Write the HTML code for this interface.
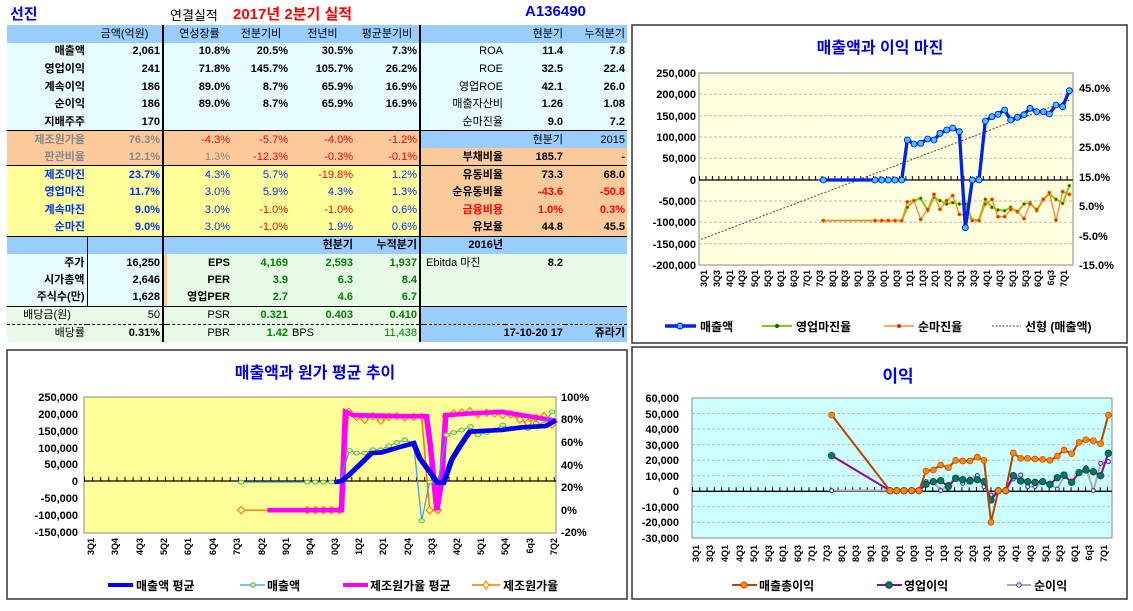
<!DOCTYPE html>
<html><head><meta charset="utf-8">
<style>
body{margin:0;width:1133px;height:611px;background:#fff;position:relative;overflow:hidden;font-family:"Liberation Sans","Noto Sans CJK KR",sans-serif;}
.t{position:absolute;white-space:nowrap;font-weight:bold}
table{position:absolute;left:7px;top:25px;width:620px;border-collapse:collapse;table-layout:fixed;font-size:11px;font-weight:bold}
td{height:17.6px;padding:0 2px;text-align:right;white-space:nowrap;overflow:hidden;line-height:16px;box-sizing:border-box}
.b{background:#99ccff}.c{background:#e6fbfb}.o{background:#fcc99b}.y{background:#ffff99}.g{background:#e6fae6}
.r{color:#ff0000}.bl{color:#0033ff}.gr{color:#008000}.gy{color:#888}.n{font-weight:normal}
.lb{border-left:2px solid #000}.rb{border-right:1px solid #000}
svg{position:absolute;left:0;top:0}
svg text{font-family:"Liberation Sans","Noto Sans CJK KR",sans-serif;font-weight:bold}
</style></head><body>
<div class="t" style="left:10px;top:3px;font-size:15px;color:#0000ee">선진</div>
<div class="t n" style="left:170px;top:5px;font-size:13px;font-weight:normal">연결실적</div>
<div class="t" style="left:233px;top:3px;font-size:15px;color:#ff0000">2017년 2분기 실적</div>
<div class="t" style="left:525px;top:3px;font-size:15px;color:#0000ee">A136490</div>
<table>
<colgroup><col style="width:80px"><col style="width:76px"><col style="width:4px"><col style="width:65px"><col style="width:58px"><col style="width:65px"><col style="width:65px"><col style="width:4px"><col style="width:81px"><col style="width:60px"><col style="width:62px"></colgroup>
<tr class="b"><td></td><td class="n" style="text-align:center">금액(억원)</td><td class="lb"></td><td class="n" style="text-align:center">연성장률</td><td class="n" style="text-align:center">전분기비</td><td class="n" style="text-align:center">전년비</td><td class="n" style="text-align:center">평균분기비</td><td class="lb"></td><td></td><td class="n">현분기</td><td class="n">누적분기</td></tr>
<tr class="c"><td>매출액</td><td>2,061</td><td class="lb"></td><td>10.8%</td><td>20.5%</td><td>30.5%</td><td>7.3%</td><td class="lb"></td><td class="n">ROA</td><td>11.4</td><td>7.8</td></tr>
<tr class="c"><td>영업이익</td><td>241</td><td class="lb"></td><td>71.8%</td><td>145.7%</td><td>105.7%</td><td>26.2%</td><td class="lb"></td><td class="n">ROE</td><td>32.5</td><td>22.4</td></tr>
<tr class="c"><td>계속이익</td><td>186</td><td class="lb"></td><td>89.0%</td><td>8.7%</td><td>65.9%</td><td>16.9%</td><td class="lb"></td><td class="n">영업ROE</td><td>42.1</td><td>26.0</td></tr>
<tr class="c"><td>순이익</td><td>186</td><td class="lb"></td><td>89.0%</td><td>8.7%</td><td>65.9%</td><td>16.9%</td><td class="lb"></td><td class="n">매출자산비</td><td>1.26</td><td>1.08</td></tr>
<tr class="c"><td>지배주주</td><td>170</td><td class="lb"></td><td></td><td></td><td></td><td></td><td class="lb"></td><td class="n">순마진율</td><td>9.0</td><td>7.2</td></tr>
<tr class="o" style="border-top:1px solid #000"><td class="gy">제조원가율</td><td class="gy">76.3%</td><td class="lb"></td><td class="r n">-4.3%</td><td class="r n">-5.7%</td><td class="r n">-4.0%</td><td class="r n">-1.2%</td><td class="lb b"></td><td class="b"></td><td class="b n">현분기</td><td class="b n">2015</td></tr>
<tr class="o"><td class="gy">판관비율</td><td class="gy">12.1%</td><td class="lb"></td><td class="gy n">1.3%</td><td class="r n">-12.3%</td><td class="r n">-0.3%</td><td class="r n">-0.1%</td><td class="lb"></td><td>부채비율</td><td>185.7</td><td>-</td></tr>
<tr class="y" style="border-top:1px solid #000"><td class="bl">제조마진</td><td class="bl">23.7%</td><td class="lb"></td><td class="bl n">4.3%</td><td class="bl n">5.7%</td><td class="r n">-19.8%</td><td class="bl n">1.2%</td><td class="lb o"></td><td class="o">유동비율</td><td class="o">73.3</td><td class="o">68.0</td></tr>
<tr class="y"><td class="bl">영업마진</td><td class="bl">11.7%</td><td class="lb"></td><td class="bl n">3.0%</td><td class="bl n">5.9%</td><td class="bl n">4.3%</td><td class="bl n">1.3%</td><td class="lb o"></td><td class="o">순유동비율</td><td class="o r">-43.6</td><td class="o r">-50.8</td></tr>
<tr class="y"><td class="bl">계속마진</td><td class="bl">9.0%</td><td class="lb"></td><td class="bl n">3.0%</td><td class="r n">-1.0%</td><td class="r n">-1.0%</td><td class="bl n">0.6%</td><td class="lb o"></td><td class="o r">금융비용</td><td class="o r">1.0%</td><td class="o r">0.3%</td></tr>
<tr class="y"><td class="bl">순마진</td><td class="bl">9.0%</td><td class="lb"></td><td class="bl n">3.0%</td><td class="r n">-1.0%</td><td class="bl n">1.9%</td><td class="bl n">0.6%</td><td class="lb o"></td><td class="o">유보율</td><td class="o">44.8</td><td class="o">45.5</td></tr>
<tr class="b" style="border-top:1px solid #000"><td class="rb"></td><td></td><td class="lb"></td><td></td><td></td><td>현분기</td><td>누적분기</td><td class="lb"></td><td>2016년</td><td></td><td></td></tr>
<tr class="g"><td class="c rb">주가</td><td class="c">16,250</td><td class="lb o"></td><td>EPS</td><td class="gr">4,169</td><td class="gr">2,593</td><td class="gr">1,937</td><td class="lb"></td><td class="n" style="text-align:left">Ebitda 마진</td><td>8.2</td><td></td></tr>
<tr class="g"><td class="c rb">시가총액</td><td class="c">2,646</td><td class="lb o"></td><td>PER</td><td class="gr">3.9</td><td class="gr">6.3</td><td class="gr">8.4</td><td class="lb"></td><td></td><td></td><td></td></tr>
<tr class="g"><td class="c rb">주식수(만)</td><td class="c">1,628</td><td class="lb o"></td><td>영업PER</td><td class="gr">2.7</td><td class="gr">4.6</td><td class="gr">6.7</td><td class="lb"></td><td></td><td></td><td></td></tr>
<tr class="g" style="border-top:1px solid #000"><td class="n" style="text-align:center">배당금(원)</td><td class="n">50</td><td class="lb"></td><td class="n">PSR</td><td class="gr">0.321</td><td class="gr">0.403</td><td class="gr">0.410</td><td class="lb b"></td><td class="b"></td><td class="b"></td><td class="b"></td></tr>
<tr class="g" style="border-top:1px dashed #000"><td class="n">배당률</td><td>0.31%</td><td class="lb"></td><td class="n">PBR</td><td class="gr">1.42</td><td class="n" style="text-align:left">BPS</td><td class="gr n">11,438</td><td class="lb b"></td><td class="b" colspan="2">17-10-20 17</td><td class="b">쥬라기</td></tr>
</table>

<svg width="1133" height="611" viewBox="0 0 1133 611">
<defs>
<marker id="mB" markerUnits="userSpaceOnUse" viewBox="-11 -11 22 22" markerWidth="22" markerHeight="22"><circle r="9" fill="#33ccff" stroke="#0000ff" stroke-width="2.5"/></marker>
<marker id="mG" markerUnits="userSpaceOnUse" viewBox="-10 -10 20 20" markerWidth="20" markerHeight="20"><circle r="5" fill="#006600" stroke="#cccc00" stroke-width="2"/></marker>
<marker id="mO" markerUnits="userSpaceOnUse" viewBox="-10 -10 20 20" markerWidth="20" markerHeight="20"><circle r="5" fill="#cc3300" stroke="#ff8800" stroke-width="2"/></marker>
<marker id="mC" markerUnits="userSpaceOnUse" viewBox="-12 -12 24 24" markerWidth="24" markerHeight="24"><ellipse rx="7" ry="6" fill="#ffff00" stroke="#33aacc" stroke-width="2.5"/></marker>
<marker id="mD" markerUnits="userSpaceOnUse" viewBox="-14 -14 28 28" markerWidth="28" markerHeight="28"><path d="M0,-11 L9,0 0,11 -9,0Z" fill="#ffff99" stroke="#ff7700" stroke-width="3"/></marker>
<marker id="m1" markerUnits="userSpaceOnUse" viewBox="-12 -12 24 24" markerWidth="24" markerHeight="24"><circle r="9" fill="#ff8800" stroke="#cc4400" stroke-width="2"/></marker>
<marker id="m2" markerUnits="userSpaceOnUse" viewBox="-12 -12 24 24" markerWidth="24" markerHeight="24"><circle r="10" fill="#007766" stroke="#004433" stroke-width="2"/></marker>
<marker id="m3" markerUnits="userSpaceOnUse" viewBox="-12 -12 24 24" markerWidth="24" markerHeight="24"><circle r="6" fill="#ddddff" stroke="#3333aa" stroke-width="3"/></marker>
</defs>

<!-- TOP RIGHT -->
<rect x="632" y="25" width="495" height="318" fill="#fff" stroke="#333" stroke-width="1.5"/>
<text x="880" y="53" font-size="16" fill="#0000ee" text-anchor="middle">매출액과 이익 마진</text>
<rect x="699" y="73" width="374" height="192" fill="#ffffe0" stroke="#888"/>
<g stroke="#bbb" stroke-dasharray="3 2">
<line x1="699" x2="1073" y1="94.3" y2="94.3"/><line x1="699" x2="1073" y1="115.7" y2="115.7"/><line x1="699" x2="1073" y1="137" y2="137"/><line x1="699" x2="1073" y1="158.3" y2="158.3"/><line x1="699" x2="1073" y1="201" y2="201"/><line x1="699" x2="1073" y1="222.3" y2="222.3"/><line x1="699" x2="1073" y1="243.7" y2="243.7"/></g>
<line x1="699" x2="1073" y1="180" y2="180" stroke="#000" stroke-width="1.3"/>
<line x1="699" x2="1073" y1="178" y2="178" stroke="#000" stroke-width="4" stroke-dasharray="1 5.45"/>
<g font-size="11" text-anchor="end"><text x="696" y="77">250,000</text><text x="696" y="98">200,000</text><text x="696" y="120">150,000</text><text x="696" y="141">100,000</text><text x="696" y="162">50,000</text><text x="696" y="184">0</text><text x="696" y="205">-50,000</text><text x="696" y="226">-100,000</text><text x="696" y="248">-150,000</text><text x="696" y="269">-200,000</text></g>
<g font-size="11"><text x="1079" y="92">45.0%</text><text x="1079" y="121">35.0%</text><text x="1079" y="151">25.0%</text><text x="1079" y="181">15.0%</text><text x="1079" y="210">5.0%</text><text x="1079" y="240">-5.0%</text><text x="1079" y="269">-15.0%</text></g>
<g font-size="9" text-anchor="end">
<text transform="translate(707,270) rotate(-90)">3Q1</text><text transform="translate(720,270) rotate(-90)">3Q3</text><text transform="translate(733,270) rotate(-90)">4Q1</text><text transform="translate(745,270) rotate(-90)">4Q3</text><text transform="translate(758,270) rotate(-90)">5Q1</text><text transform="translate(771,270) rotate(-90)">5Q3</text><text transform="translate(784,270) rotate(-90)">6Q1</text><text transform="translate(797,270) rotate(-90)">6Q3</text><text transform="translate(810,270) rotate(-90)">7Q1</text><text transform="translate(823,270) rotate(-90)">7Q3</text><text transform="translate(836,270) rotate(-90)">8Q1</text><text transform="translate(848,270) rotate(-90)">8Q3</text><text transform="translate(861,270) rotate(-90)">9Q1</text><text transform="translate(874,270) rotate(-90)">9Q3</text><text transform="translate(887,270) rotate(-90)">0Q1</text><text transform="translate(900,270) rotate(-90)">0Q3</text><text transform="translate(913,270) rotate(-90)">1Q1</text><text transform="translate(926,270) rotate(-90)">1Q3</text><text transform="translate(938,270) rotate(-90)">2Q1</text><text transform="translate(951,270) rotate(-90)">2Q3</text><text transform="translate(964,270) rotate(-90)">3Q1</text><text transform="translate(977,270) rotate(-90)">3Q3</text><text transform="translate(990,270) rotate(-90)">4Q1</text><text transform="translate(1003,270) rotate(-90)">4Q3</text><text transform="translate(1016,270) rotate(-90)">5Q1</text><text transform="translate(1029,270) rotate(-90)">5Q3</text><text transform="translate(1041,270) rotate(-90)">6Q1</text><text transform="translate(1054,270) rotate(-90)">6q3</text><text transform="translate(1067,270) rotate(-90)">7Q1</text></g>
<g transform="translate(630,0) scale(0.33333)" fill="none">
<line x1="213" y1="718" x2="1318" y2="300" stroke="#444" stroke-width="3" stroke-dasharray="6 5"/>
<polyline stroke="#88cc00" stroke-width="6" marker-start="url(#mG)" marker-mid="url(#mG)" marker-end="url(#mG)" points="580,662 735,662 755,662 775,662 795,662 815,662 832,622 852,602 872,595 893,632 912,592 930,602 950,612 968,608 988,612 1006,612 1027,660 1047,660 1066,598 1086,622 1104,630 1124,632 1142,622 1162,636 1182,612 1200,608 1220,632 1240,598 1258,582 1278,598 1298,610 1318,557"/>
<polyline stroke="#ff8833" stroke-width="4" marker-start="url(#mO)" marker-mid="url(#mO)" marker-end="url(#mO)" points="580,662 735,662 755,662 775,662 795,662 815,662 832,606 852,602 872,658 893,628 912,583 930,628 950,602 968,587 988,643 1006,645 1027,662 1047,662 1066,612 1086,598 1104,650 1124,650 1142,628 1162,634 1182,656 1200,612 1220,628 1240,598 1258,578 1278,660 1298,575 1318,583"/>
<polyline stroke="#0022ee" stroke-width="10" marker-start="url(#mB)" marker-mid="url(#mB)" marker-end="url(#mB)" points="580,540 735,540 755,540 775,540 795,540 815,540 832,420 852,432 872,430 893,417 912,420 930,400 950,390 968,384 988,395 1006,683 1027,540 1047,540 1066,363 1086,350 1104,343 1124,330 1142,360 1162,352 1182,344 1200,325 1220,335 1240,335 1258,342 1278,315 1298,320 1318,272"/>
</g>
<g font-size="12" fill="#000">
<line x1="665" x2="696" y1="326" y2="326" stroke="#0022ee" stroke-width="3.5"/><circle cx="680" cy="326" r="3" fill="#33ccff" stroke="#00f"/><text x="700" y="331">매출액</text>
<line x1="762" x2="792" y1="326" y2="326" stroke="#88cc00" stroke-width="2"/><circle cx="777" cy="326" r="2" fill="#060"/><text x="796" y="331">영업마진율</text>
<line x1="884" x2="914" y1="326" y2="326" stroke="#ff8833" stroke-width="1.5"/><circle cx="899" cy="326" r="2" fill="#c30"/><text x="918" y="331">순마진율</text>
<line x1="992" x2="1021" y1="326" y2="326" stroke="#444" stroke-dasharray="2 1.5"/><text x="1025" y="331">선형 (매출액)</text></g>

<!-- BOTTOM LEFT -->
<rect x="7" y="350" width="620" height="249" fill="#fff" stroke="#333" stroke-width="1.5"/>
<text x="315" y="378" font-size="16" fill="#0000ee" text-anchor="middle">매출액과 원가 평균 추이</text>
<rect x="84" y="397" width="472" height="136" fill="#ffff99" stroke="#888"/>
<line x1="84" x2="556" y1="481" y2="481" stroke="#000" stroke-width="1.3"/>
<line x1="84" x2="556" y1="479" y2="479" stroke="#000" stroke-width="4" stroke-dasharray="1 7.1"/>
<g font-size="11" text-anchor="end"><text x="78" y="401">250,000</text><text x="78" y="418">200,000</text><text x="78" y="435">150,000</text><text x="78" y="452">100,000</text><text x="78" y="468">50,000</text><text x="78" y="485">0</text><text x="78" y="502">-50,000</text><text x="78" y="519">-100,000</text><text x="78" y="536">-150,000</text></g>
<g font-size="11"><text x="561" y="401">100%</text><text x="561" y="423">80%</text><text x="561" y="446">60%</text><text x="561" y="469">40%</text><text x="561" y="491">20%</text><text x="561" y="514">0%</text><text x="561" y="536">-20%</text></g>
<g font-size="9" text-anchor="end">
<text transform="translate(94,538) rotate(-90)">3Q1</text><text transform="translate(118,538) rotate(-90)">3Q4</text><text transform="translate(143,538) rotate(-90)">4Q3</text><text transform="translate(167,538) rotate(-90)">5Q2</text><text transform="translate(191,538) rotate(-90)">6Q1</text><text transform="translate(216,538) rotate(-90)">6Q4</text><text transform="translate(240,538) rotate(-90)">7Q3</text><text transform="translate(265,538) rotate(-90)">8Q2</text><text transform="translate(289,538) rotate(-90)">9Q1</text><text transform="translate(313,538) rotate(-90)">9Q4</text><text transform="translate(338,538) rotate(-90)">0Q3</text><text transform="translate(362,538) rotate(-90)">1Q2</text><text transform="translate(386,538) rotate(-90)">2Q1</text><text transform="translate(411,538) rotate(-90)">2Q4</text><text transform="translate(435,538) rotate(-90)">3Q3</text><text transform="translate(460,538) rotate(-90)">4Q2</text><text transform="translate(484,538) rotate(-90)">5Q1</text><text transform="translate(508,538) rotate(-90)">5Q4</text><text transform="translate(533,538) rotate(-90)">6q3</text><text transform="translate(557,538) rotate(-90)">7Q2</text></g>
<g transform="translate(0.6,347.5) scale(0.401,0.330)" fill="none">
<polyline stroke="#ff7700" stroke-width="4" marker-start="url(#mD)" marker-mid="url(#mD)" marker-end="url(#mD)" points="600,493 765,493 785,493 805,493 825,493 845,493 868,195 888,210 908,218 928,208 948,222 968,210 988,208 1008,212 1030,210 1050,210 1070,493 1090,493 1110,208 1130,200 1150,197 1170,193 1190,202 1212,198 1232,200 1252,205 1272,203 1295,218 1315,228 1335,213 1355,208 1375,234"/>
<polyline stroke="#ff00ff" stroke-width="14" points="665,493 850,493 860,195 880,205 1000,208 1062,208 1072,300 1088,493 1100,400 1110,205 1170,200 1250,195 1300,205 1385,222"/>
<polyline stroke="#3399ff" stroke-width="3" marker-start="url(#mC)" marker-mid="url(#mC)" marker-end="url(#mC)" points="600,408 765,408 785,408 805,408 825,408 845,408 870,312 888,320 908,320 928,310 948,310 968,298 988,288 1008,280 1030,290 1050,525 1070,408 1090,408 1112,265 1130,258 1150,250 1172,240 1190,265 1212,258 1232,250 1252,235 1272,245 1295,243 1315,245 1335,230 1355,232 1375,195"/>
<polyline stroke="#0000ee" stroke-width="14" points="832,408 850,405 870,385 900,350 925,320 950,318 1000,300 1030,290 1045,335 1075,385 1090,410 1105,410 1125,340 1145,300 1170,255 1200,253 1250,250 1300,242 1360,238 1385,220"/>
</g>
<g font-size="12">
<line x1="108" x2="133" y1="585" y2="585" stroke="#0000ee" stroke-width="4"/><text x="136" y="590">매출액 평균</text>
<line x1="240" x2="265" y1="585" y2="585" stroke="#3399ff" stroke-width="1.2"/><circle cx="253" cy="585" r="2.3" fill="#ff0" stroke="#3ac"/><text x="267" y="590">매출액</text>
<line x1="343" x2="368" y1="585" y2="585" stroke="#f0f" stroke-width="4"/><text x="370" y="590">제조원가율 평균</text>
<line x1="472" x2="500" y1="585" y2="585" stroke="#f70" stroke-width="1.5"/><path d="M486,581 L489,585 486,589 483,585Z" fill="#ff9" stroke="#f70"/><text x="503" y="590">제조원가율</text></g>

<!-- BOTTOM RIGHT -->
<rect x="632" y="347" width="495" height="252" fill="#fff" stroke="#333" stroke-width="1.5"/>
<text x="898" y="382" font-size="17" fill="#0000ee" text-anchor="middle">이익</text>
<rect x="692" y="398" width="420" height="140" fill="#ccffff" stroke="#888"/>
<g stroke="#bbb" stroke-dasharray="3 2">
<line x1="692" x2="1112" y1="413.5" y2="413.5"/><line x1="692" x2="1112" y1="429" y2="429"/><line x1="692" x2="1112" y1="444.6" y2="444.6"/><line x1="692" x2="1112" y1="460.2" y2="460.2"/><line x1="692" x2="1112" y1="475.7" y2="475.7"/><line x1="692" x2="1112" y1="506.8" y2="506.8"/><line x1="692" x2="1112" y1="522.4" y2="522.4"/></g>
<line x1="692" x2="1112" y1="491.3" y2="491.3" stroke="#000" stroke-width="1.3"/>
<line x1="692" x2="1112" y1="489.3" y2="489.3" stroke="#000" stroke-width="4" stroke-dasharray="1 6.28"/>
<g font-size="11" text-anchor="end"><text x="679" y="402">60,000</text><text x="679" y="418">50,000</text><text x="679" y="433">40,000</text><text x="679" y="449">30,000</text><text x="679" y="464">20,000</text><text x="679" y="480">10,000</text><text x="679" y="495">0</text><text x="679" y="511">-10,000</text><text x="679" y="526">-20,000</text><text x="679" y="542">-30,000</text></g>
<g font-size="9" text-anchor="end">
<text transform="translate(699,545) rotate(-90)">3Q1</text><text transform="translate(713,545) rotate(-90)">3Q3</text><text transform="translate(728,545) rotate(-90)">4Q1</text><text transform="translate(743,545) rotate(-90)">4Q3</text><text transform="translate(757,545) rotate(-90)">5Q1</text><text transform="translate(772,545) rotate(-90)">5Q3</text><text transform="translate(786,545) rotate(-90)">6Q1</text><text transform="translate(801,545) rotate(-90)">6Q3</text><text transform="translate(815,545) rotate(-90)">7Q1</text><text transform="translate(830,545) rotate(-90)">7Q3</text><text transform="translate(845,545) rotate(-90)">8Q1</text><text transform="translate(859,545) rotate(-90)">8Q3</text><text transform="translate(874,545) rotate(-90)">9Q1</text><text transform="translate(888,545) rotate(-90)">9Q3</text><text transform="translate(903,545) rotate(-90)">0Q1</text><text transform="translate(917,545) rotate(-90)">0Q3</text><text transform="translate(932,545) rotate(-90)">1Q1</text><text transform="translate(947,545) rotate(-90)">1Q3</text><text transform="translate(961,545) rotate(-90)">2Q1</text><text transform="translate(976,545) rotate(-90)">2Q3</text><text transform="translate(990,545) rotate(-90)">3Q1</text><text transform="translate(1005,545) rotate(-90)">3Q3</text><text transform="translate(1019,545) rotate(-90)">4Q1</text><text transform="translate(1034,545) rotate(-90)">4Q3</text><text transform="translate(1049,545) rotate(-90)">5Q1</text><text transform="translate(1063,545) rotate(-90)">5Q3</text><text transform="translate(1078,545) rotate(-90)">6Q1</text><text transform="translate(1092,545) rotate(-90)">6q3</text><text transform="translate(1107,545) rotate(-90)">7Q1</text></g>
<g transform="translate(630,345) scale(0.33333)" fill="none">
<polyline stroke="#aaaaaa" stroke-width="6" marker-start="url(#m3)" marker-mid="url(#m3)" marker-end="url(#m3)" points="605,437 780,437 800,437 822,437 845,437 867,437 888,410 910,410 932,437 955,418 977,398 998,415 1020,402 1042,392 1062,425 1083,450 1105,437 1127,437 1150,402 1172,390 1193,425 1215,425 1238,412 1260,418 1282,432 1302,395 1325,410 1347,385 1368,368 1390,437 1412,355 1435,350"/>
<polyline stroke="#990099" stroke-width="6" marker-start="url(#m2)" marker-mid="url(#m2)" marker-end="url(#m2)" points="605,332 780,437 800,437 822,437 845,437 867,437 888,418 910,410 932,407 955,425 977,400 998,404 1020,408 1042,404 1062,410 1083,465 1105,437 1127,437 1150,392 1172,408 1193,410 1215,412 1238,410 1260,418 1282,398 1302,390 1325,412 1347,383 1368,375 1390,380 1412,392 1435,325"/>
<polyline stroke="#bb4400" stroke-width="6" marker-start="url(#m1)" marker-mid="url(#m1)" marker-end="url(#m1)" points="605,210 780,437 800,437 822,437 845,437 867,437 888,378 910,375 932,360 955,368 977,346 998,348 1020,348 1042,336 1062,346 1083,532 1105,437 1127,437 1150,324 1172,340 1193,340 1215,342 1238,343 1260,346 1282,333 1302,315 1325,326 1347,292 1368,284 1390,287 1412,296 1435,210"/>
</g>
<g font-size="12">
<line x1="732" x2="757" y1="585" y2="585" stroke="#b40" stroke-width="2"/><circle cx="744" cy="585" r="3" fill="#f80" stroke="#c40"/><text x="759" y="590">매출총이익</text>
<line x1="877" x2="902" y1="585" y2="585" stroke="#909" stroke-width="2"/><circle cx="889" cy="585" r="3.3" fill="#076" stroke="#043"/><text x="904" y="590">영업이익</text>
<line x1="1007" x2="1031" y1="585" y2="585" stroke="#aaa" stroke-width="2"/><circle cx="1019" cy="585" r="2.2" fill="#ddf" stroke="#33a"/><text x="1034" y="590">순이익</text></g>
</svg>
</body></html>
